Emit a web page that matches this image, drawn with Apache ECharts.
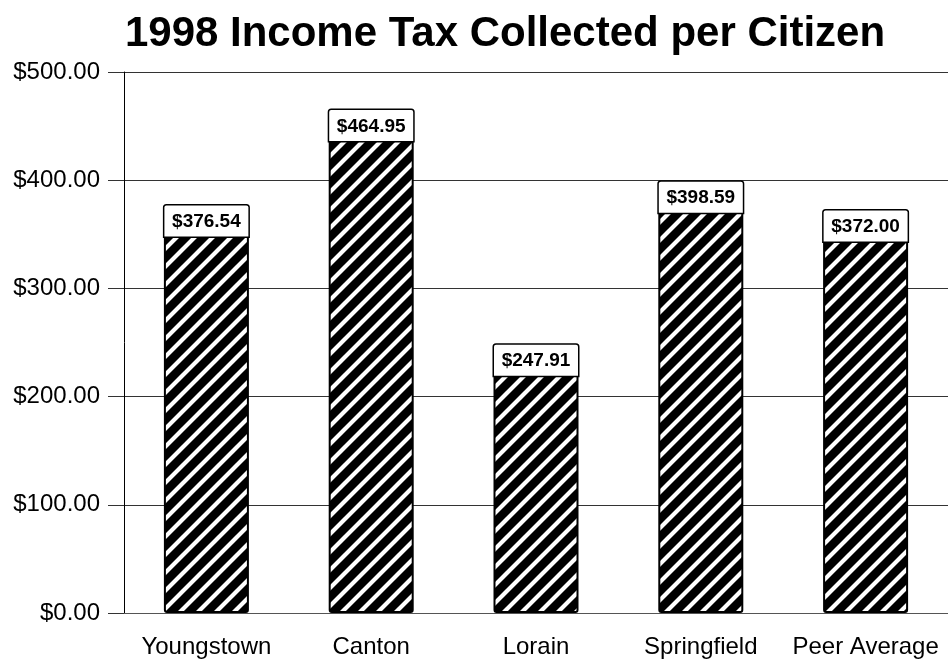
<!DOCTYPE html>
<html>
<head>
<meta charset="utf-8">
<script src="https://cdn.jsdelivr.net/npm/echarts@6/dist/echarts.min.js"></script>
<style>
  html, body { margin: 0; padding: 0; background: #fff; }
  #chart { width: 948px; height: 667px; }
</style>
</head>
<body>
<div id="chart"></div>
<script>
// Income tax collected per citizen, 1998
const categories = ['Youngstown', 'Canton', 'Lorain', 'Springfield', 'Peer Average'];
const taxPerCitizen = [376.54, 464.95, 247.91, 398.59, 372.00];
const yMin = 0;
const yMax = 500;
const yStep = 100;

const FONT = '"Liberation Sans", Arial, Helvetica, sans-serif';

// Diagonal black/white hatch tile for the bar fill
function makeHatch() {
  const p = 18;
  const c = document.createElement('canvas');
  c.width = p; c.height = p;
  const g = c.getContext('2d');
  g.fillStyle = '#000';
  g.fillRect(0, 0, p, p);
  g.strokeStyle = '#fff';
  g.lineWidth = 4.2;
  g.lineCap = 'square';
  [0, p, 2 * p].forEach(function (k) {
    g.beginPath();
    g.moveTo(k + 2, -2);
    g.lineTo(k - p - 2, p + 2);
    g.stroke();
  });
  return c;
}

const money = v => '$' + Number(v).toFixed(2);

const chart = echarts.init(document.getElementById('chart'), null, { renderer: 'canvas' });
chart.setOption({
  animation: false,
  backgroundColor: '#fff',
  title: {
    text: '1998 Income Tax Collected per Citizen',
    left: 500,
    textAlign: 'center',
    top: 8,
    textStyle: { fontFamily: FONT, fontWeight: 'bold', fontSize: 42, color: '#000' }
  },
  grid: { left: 124, right: -9, top: 72, bottom: 54, containLabel: false },
  xAxis: {
    type: 'category',
    data: categories,
    axisLine: { lineStyle: { color: '#555', width: 1 } },
    axisTick: { alignWithLabel: true, length: 14, lineStyle: { color: '#000', width: 1 } },
    axisLabel: { fontFamily: FONT, fontSize: 24, color: '#000', margin: 22, interval: 0 },
    splitLine: { show: false }
  },
  yAxis: {
    type: 'value',
    min: yMin,
    max: yMax,
    interval: yStep,
    axisLine: { show: true, lineStyle: { color: '#000', width: 1 } },
    axisTick: { show: true, length: 16, lineStyle: { color: '#333', width: 1 } },
    axisLabel: { fontFamily: FONT, fontSize: 24, color: '#000', margin: 24, formatter: money },
    splitLine: { show: true, lineStyle: { color: '#333', width: 1 } }
  },
  series: [{
    type: 'bar',
    data: taxPerCitizen,
    barWidth: 85,
    itemStyle: {
      color: { image: makeHatch(), repeat: 'repeat' },
      borderColor: '#000',
      borderWidth: 2,
      borderRadius: 2
    },
    label: {
      show: true,
      position: 'insideTop',
      distance: 0,
      formatter: p => money(p.value),
      fontFamily: FONT,
      fontWeight: 'bold',
      fontSize: 19,
      color: '#000',
      backgroundColor: '#fff',
      borderColor: '#000',
      borderWidth: 1.5,
      borderRadius: [2, 2, 0, 0],
      width: 84,
      height: 23,
      lineHeight: 23,
      align: 'center',
      padding: [5, 0, 3, 0]
    }
  }]
});
</script>
</body>
</html>
